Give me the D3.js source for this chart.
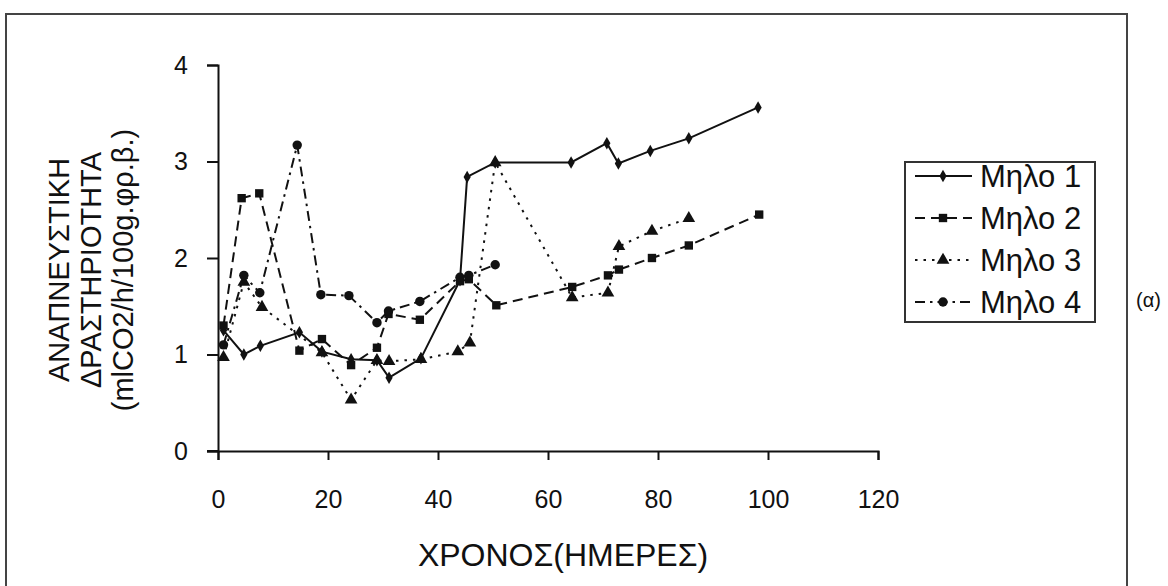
<!DOCTYPE html>
<html>
<head>
<meta charset="utf-8">
<script src="https://cdn.jsdelivr.net/npm/d3@7"></script>
<style>
  body { margin: 0; background: #fff; }
  svg { display: block; font-family: "Liberation Sans", Arial, sans-serif; }
</style>
</head>
<body>
<script>
// data (days, respiration)
var seriesNames = ["Μηλο 1", "Μηλο 2", "Μηλο 3", "Μηλο 4"];

var days1 = [1, 4.7, 7.7, 14.8, 18.9, 24.2, 28.9, 31.1, 36.9, 44, 45.3, 50.4, 64.2, 70.7, 72.8, 78.6, 85.6, 98.2];
var resp1 = [1.25, 1.0, 1.09, 1.23, 1.03, 0.95, 0.94, 0.76, 0.96, 1.77, 2.84, 2.99, 2.99, 3.19, 2.98, 3.11, 3.24, 3.56];

var days2 = [1, 4.3, 7.5, 14.8, 18.9, 24.2, 28.9, 31, 36.7, 44, 45.6, 50.6, 64.4, 70.9, 72.9, 78.9, 85.6, 98.4];
var resp2 = [1.3, 2.62, 2.67, 1.04, 1.16, 0.89, 1.07, 1.42, 1.36, 1.76, 1.78, 1.51, 1.70, 1.82, 1.88, 2.0, 2.13, 2.45];

var days3 = [1, 4.7, 8, 18.9, 24.2, 28.9, 31.1, 36.9, 43.6, 45.8, 50.4, 64.4, 70.9, 72.9, 78.9, 85.6];
var resp3 = [0.97, 1.75, 1.49, 1.02, 0.53, 0.94, 0.93, 0.95, 1.03, 1.12, 2.99, 1.59, 1.64, 2.12, 2.28, 2.41];

var days4 = [1, 4.7, 7.6, 14.4, 18.7, 23.8, 28.9, 31, 36.7, 44, 45.6, 50.4];
var resp4 = [1.1, 1.82, 1.64, 3.17, 1.62, 1.61, 1.33, 1.45, 1.55, 1.8, 1.82, 1.93];

var xTicks = [0, 20, 40, 60, 80, 100, 120];
var yTicks = [0, 1, 2, 3, 4];

var yTitle = ["ΑΝΑΠΝΕΥΣΤΙΚΗ", "ΔΡΑΣΤΗΡΙΟΤΗΤΑ", "(mlCO2/h/100g.φρ.β.)"];
var xTitle = "ΧΡΟΝΟΣ(ΗΜΕΡΕΣ)";

// build table for drawing
function zip(xs, ys){
    return xs.map(function(d, i){ return {x: d, y: ys[i]}; });
}
var series = [
    {name: seriesNames[0], pts: zip(days1, resp1), dash: null, sym: d3.symbolDiamond, size: 45},
    {name: seriesNames[1], pts: zip(days2, resp2), dash: "10,6", sym: d3.symbolSquare, size: 70},
    {name: seriesNames[2], pts: zip(days3, resp3), dash: "2.5,6", sym: d3.symbolTriangle, size: 70},
    {name: seriesNames[3], pts: zip(days4, resp4), dash: "10,5,2.5,5", sym: d3.symbolCircle, size: 70}
];

var width = 1168, height = 586;

var svg = d3.select("body").append("svg")
    .attr("width", width)
    .attr("height", height);

// frame of the scanned figure
svg.append("path")
    .attr("d", "M6,586 L6,14 L1127,14 L1127,586")
    .attr("fill", "none")
    .attr("stroke", "#444")
    .attr("stroke-width", 2);

var x = d3.scaleLinear().domain([0, 120]).range([218, 878]);
var y = d3.scaleLinear().domain([0, 4]).range([451, 65]);

// axes
var xAxis = svg.append("g")
    .attr("transform", "translate(0," + y(0) + ")")
    .call(d3.axisBottom(x).tickValues(xTicks).tickFormat(d3.format("d")).tickSize(9).tickPadding(30));
var yAxis = svg.append("g")
    .attr("transform", "translate(" + x(0) + ",0)")
    .call(d3.axisLeft(y).tickValues(yTicks).tickFormat(d3.format("d")).tickSize(11).tickPadding(19));

[xAxis, yAxis].forEach(function(g){
    g.select(".domain").attr("stroke", "#111").attr("stroke-width", 2);
    g.selectAll(".tick line").attr("stroke", "#111").attr("stroke-width", 2);
    g.selectAll(".tick text")
        .attr("fill", "#111")
        .style("font-size", "25px")
        .style("font-family", "'Liberation Sans', Arial, sans-serif");
});
// little cross at the origin
svg.append("line")
    .attr("x1", x(0) - 11).attr("x2", x(0))
    .attr("y1", y(0)).attr("y2", y(0))
    .attr("stroke", "#111").attr("stroke-width", 2);

// axis titles
svg.append("g")
    .attr("transform", "translate(0,270) rotate(-90)")
    .selectAll("text")
    .data(yTitle)
    .enter()
    .append("text")
    .attr("x", 0)
    .attr("y", function(d, i){ return 69 + i * 32; })
    .attr("text-anchor", "middle")
    .style("font-size", "29px")
    .attr("fill", "#111")
    .text(function(d){ return d; });

svg.append("text")
    .attr("x", 563)
    .attr("y", 566)
    .attr("text-anchor", "middle")
    .style("font-size", "32px")
    .attr("fill", "#111")
    .text(xTitle);

// lines and markers
var line = d3.line()
    .x(function(d){ return x(d.x); })
    .y(function(d){ return y(d.y); });

series.forEach(function(s){
    svg.append("path")
        .datum(s.pts)
        .attr("d", line)
        .attr("fill", "none")
        .attr("stroke", "#111")
        .attr("stroke-width", 2)
        .attr("stroke-dasharray", s.dash);

    svg.selectAll(null)
        .data(s.pts)
        .enter()
        .append("path")
        .attr("transform", function(d){ return "translate(" + x(d.x) + "," + y(d.y) + ")"; })
        .attr("d", d3.symbol().type(s.sym).size(s.size))
        .attr("fill", "#111");
});

// legend
var legend = svg.append("g");
legend.append("rect")
    .attr("x", 905).attr("y", 162)
    .attr("width", 190).attr("height", 160)
    .attr("fill", "#fff")
    .attr("stroke", "#333")
    .attr("stroke-width", 2);

series.forEach(function(s, i){
    var ly = 176 + i * 42;
    legend.append("line")
        .attr("x1", 915).attr("x2", 972)
        .attr("y1", ly).attr("y2", ly)
        .attr("stroke", "#111")
        .attr("stroke-width", 2)
        .attr("stroke-dasharray", s.dash);
    legend.append("path")
        .attr("transform", "translate(943," + ly + ")")
        .attr("d", d3.symbol().type(s.sym).size(s.size))
        .attr("fill", "#111");
    legend.append("text")
        .attr("x", 980)
        .attr("y", ly + 11)
        .style("font-size", "31px")
        .attr("fill", "#111")
        .text(s.name);
});

svg.append("text")
    .attr("x", 1136)
    .attr("y", 307)
    .style("font-size", "20px")
    .attr("fill", "#111")
    .text("(α)");
</script>
</body>
</html>
